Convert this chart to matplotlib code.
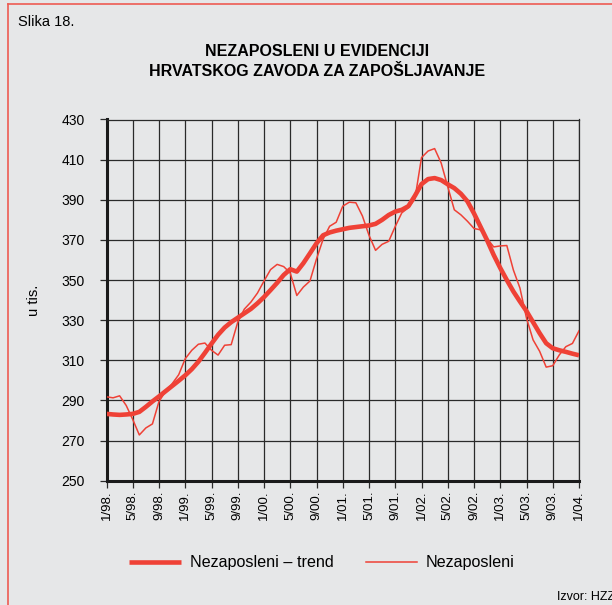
import matplotlib
matplotlib.use("Agg")
import matplotlib.pyplot as plt
from matplotlib.lines import Line2D

plt.rcParams['font.family'] = ['Liberation Sans', 'DejaVu Sans']

# ---- data (thousands) ----
months = list(range(73))  # 1/98 .. 1/04
nezaposleni = [291.8, 291.3, 292.3, 287.5, 280.5, 272.8, 276.3, 278.3, 289.5, 294.5, 298.3, 302.8,
               310.8, 315.0, 318.0, 318.6, 315.0, 312.6, 317.5, 317.8, 329.0, 335.5, 339.0, 343.5,
               349.5, 355.2, 357.8, 356.7, 353.5, 342.3, 346.5, 349.5, 360.5, 370.3, 376.8, 378.8,
               386.8, 388.8, 388.5, 381.9, 372.3, 364.8, 367.8, 369.3, 376.7, 383.5, 386.0, 390.5,
               411.0, 414.3, 415.5, 408.3, 396.5, 385.0, 382.5, 379.3, 375.7, 375.0, 370.7, 366.5,
               367.0, 367.2, 355.0, 346.0, 331.0, 320.2, 314.5, 306.6, 307.3, 312.7, 316.8, 318.4,
               324.7]
trend = [283.3, 283.0, 282.8, 283.0, 283.3, 284.3, 286.8, 289.5, 292.0, 294.6, 297.2, 299.8,
         302.5, 305.6, 309.3, 313.7, 318.3, 322.7, 326.3, 329.0, 331.2, 333.4, 335.6, 338.4,
         341.5, 345.0, 348.6, 352.5, 355.4, 354.2, 358.4, 363.3, 368.3, 372.3, 373.7, 374.6,
         375.3, 376.0, 376.4, 376.8, 377.2, 378.0, 380.0, 382.4, 384.1, 385.0, 386.8, 392.0,
         397.8, 400.3, 400.8, 399.8, 397.7, 395.8, 393.0, 389.2, 383.2, 376.5, 369.8, 362.5,
         356.0, 350.0, 344.3, 339.3, 334.5, 329.0, 323.5, 318.5, 316.0, 315.0, 314.2, 313.3,
         312.5]
tick_labels = ["1/98.", "5/98.", "9/98.", "1/99.", "5/99.", "9/99.", "1/00.", "5/00.", "9/00.",
               "1/01.", "5/01.", "9/01.", "1/02.", "5/02.", "9/02.", "1/03.", "5/03.", "9/03.", "1/04."]
y_ticks = [250, 270, 290, 310, 330, 350, 370, 390, 410, 430]

BG = '#e6e7e8'
RED = '#ef4136'
GRID = '#2a2a2a'

W, H = 612, 605
fig = plt.figure(figsize=(W / 100, H / 100), dpi=100, facecolor=BG)
ax = fig.add_axes([106.5 / W, 1 - 480.7 / H, (579 - 106.5) / W, (480.7 - 119.5) / H])
ax.set_facecolor(BG)

ax.plot(months, trend, color=RED, lw=3.3, solid_capstyle='butt', label='Nezaposleni – trend', zorder=3)
ax.plot(months, nezaposleni, color=RED, lw=1.1, label='Nezaposleni', zorder=4)

ax.set_xlim(0, 72)
ax.set_ylim(250, 430)
ax.set_xticks(list(range(0, 73, 4)))
ax.set_xticklabels(tick_labels, rotation=90, fontsize=9.5)
ax.set_yticks(y_ticks)
ax.set_yticklabels([str(v) for v in y_ticks], fontsize=10)
ax.tick_params(axis='x', direction='out', length=5, width=0.9, color=GRID, pad=2)
ax.tick_params(axis='y', direction='out', length=5, width=0.9, color=GRID, pad=10.5)
ax.grid(True, color=GRID, lw=0.9)
ax.set_axisbelow(True)
for side in ['left', 'bottom']:
    ax.spines[side].set_linewidth(2.2)
    ax.spines[side].set_color('#1a1a1a')
for side in ['top', 'right']:
    ax.spines[side].set_linewidth(0.9)
    ax.spines[side].set_color(GRID)

ax.set_ylabel('u tis.', fontsize=10.5, labelpad=15)

fig.text(18 / W, 1 - 22 / H, 'Slika 18.', fontsize=10.5, va='center', ha='left')
fig.text(317 / W, 1 - 52 / H, 'NEZAPOSLENI U EVIDENCIJI', fontsize=11.5, fontweight='bold',
         ha='center', va='center')
fig.text(317 / W, 1 - 72 / H, 'HRVATSKOG ZAVODA ZA ZAPOŠLJAVANJE', fontsize=11.5, fontweight='bold',
         ha='center', va='center')
fig.text(557 / W, 1 - 597 / H, 'Izvor: HZZ', fontsize=9, ha='left', va='center')

fig.legend(loc='center', bbox_to_anchor=(322 / W, 1 - 563 / H), ncol=2, frameon=False,
           fontsize=11.6, handlelength=3.2, handletextpad=0.55, columnspacing=2.0)

# red frame (left and top)
fig.add_artist(Line2D([8 / W, 8 / W], [0, 1 - 4 / H], color='#ee5b52', lw=1.2, transform=fig.transFigure))
fig.add_artist(Line2D([8 / W, 1], [1 - 4 / H, 1 - 4 / H], color='#ee5b52', lw=1.2, transform=fig.transFigure))

fig.savefig('out.png', dpi=100, facecolor=BG)
